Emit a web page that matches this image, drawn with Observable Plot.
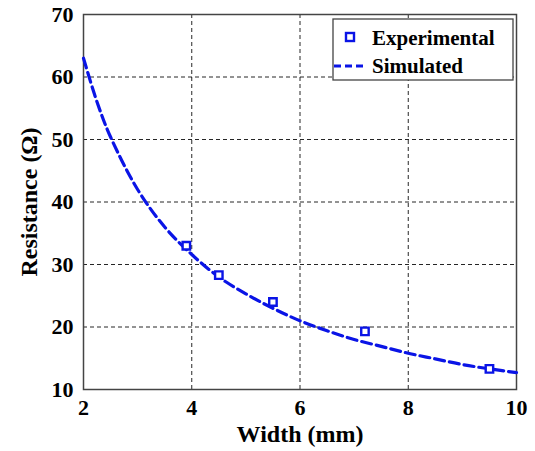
<!DOCTYPE html>
<html>
<head>
<meta charset="utf-8">
<script src="https://cdn.jsdelivr.net/npm/d3@7"></script>
<script src="https://cdn.jsdelivr.net/npm/@observablehq/plot@0.6"></script>
<style>
  html, body { margin: 0; padding: 0; background: #fff; }
  #chart svg { display: block; }
</style>
</head>
<body>
<div id="chart"></div>
<script>
// Experimental measurements
const expWidth = [3.9, 4.5, 5.5, 7.2, 9.5];
const expResistance = [33.0, 28.3, 24.0, 19.3, 13.3];

// Simulated curve
const simWidth = [2, 2.25, 2.5, 3, 3.5, 4, 4.5, 5, 5.5, 6, 6.5, 7, 7.5, 8, 8.5, 9, 9.5, 10];
const simResistance = [63.0, 56.0, 50.4, 42.0, 36.0, 31.6, 28.0, 25.3, 23.0, 21.0, 19.4, 18.0, 16.9, 15.8, 14.9, 14.0, 13.3, 12.7];

const xTicks = [2, 4, 6, 8, 10];
const yTicks = [10, 20, 30, 40, 50, 60, 70];

const legendLabels = ["Experimental", "Simulated"];

const expData = expWidth.map((w, i) => ({w, r: expResistance[i]}));
const simData = simWidth.map((w, i) => ({w, r: simResistance[i]}));

const blue = "#0a14e6";
const font = "'Liberation Serif', 'DejaVu Serif', serif";

const chart = Plot.plot({
  width: 535,
  height: 451,
  marginLeft: 83,
  marginRight: 19,
  marginTop: 14,
  marginBottom: 62,
  style: {fontFamily: font, fontWeight: "bold", fontSize: "22px", color: "#000", background: "#fff"},
  x: {domain: [2, 10], ticks: xTicks},
  y: {domain: [10, 70], ticks: yTicks},
  marks: [
    Plot.gridX(xTicks.slice(1, -1), {stroke: "#000", strokeOpacity: 0.85, strokeWidth: 1, strokeDasharray: "4,3"}),
    Plot.gridY(yTicks.slice(1, -1), {stroke: "#000", strokeOpacity: 0.85, strokeWidth: 1, strokeDasharray: "4,3"}),
    Plot.frame({stroke: "#444", strokeWidth: 1.5}),
    Plot.axisX(xTicks, {tickSize: 0, tickPadding: 10, fontSize: 22, fontWeight: "bold",
      label: "Width (mm)", labelAnchor: "center", labelOffset: 52, labelArrow: "none"}),
    Plot.axisY(yTicks, {tickSize: 0, tickPadding: 10, fontSize: 22, fontWeight: "bold",
      label: "Resistance (Ω)", labelAnchor: "center", labelOffset: 64, labelArrow: "none"}),
    Plot.line(simData, {x: "w", y: "r", curve: "catmull-rom", stroke: blue, strokeWidth: 3.2, strokeDasharray: "10,5"}),
    Plot.dot(expData, {x: "w", y: "r", symbol: "square", r: 4.2, stroke: blue, strokeWidth: 2.4, fill: "white"})
  ]
});

document.getElementById("chart").appendChild(chart);

// Legend (drawn in the plot's SVG)
const svg = d3.select(chart);
svg.selectAll("[aria-label='x-axis label'] text, [aria-label='y-axis label'] text").attr("font-size", 24);
const lg = svg.append("g").attr("font-family", font).attr("font-weight", "bold").attr("font-size", 21)
  .attr("text-anchor", "start");
lg.append("rect").attr("x", 333).attr("y", 19).attr("width", 180).attr("height", 61)
  .attr("fill", "white").attr("stroke", "#444").attr("stroke-width", 1.3);
lg.append("rect").attr("x", 346).attr("y", 33).attr("width", 8).attr("height", 8)
  .attr("fill", "white").attr("stroke", blue).attr("stroke-width", 2.4);
lg.append("line").attr("x1", 334).attr("x2", 365).attr("y1", 66).attr("y2", 66)
  .attr("stroke", blue).attr("stroke-width", 3).attr("stroke-dasharray", "7,4");
lg.append("text").attr("x", 372).attr("y", 45).text(legendLabels[0]);
lg.append("text").attr("x", 372).attr("y", 73).text(legendLabels[1]);
</script>
</body>
</html>
